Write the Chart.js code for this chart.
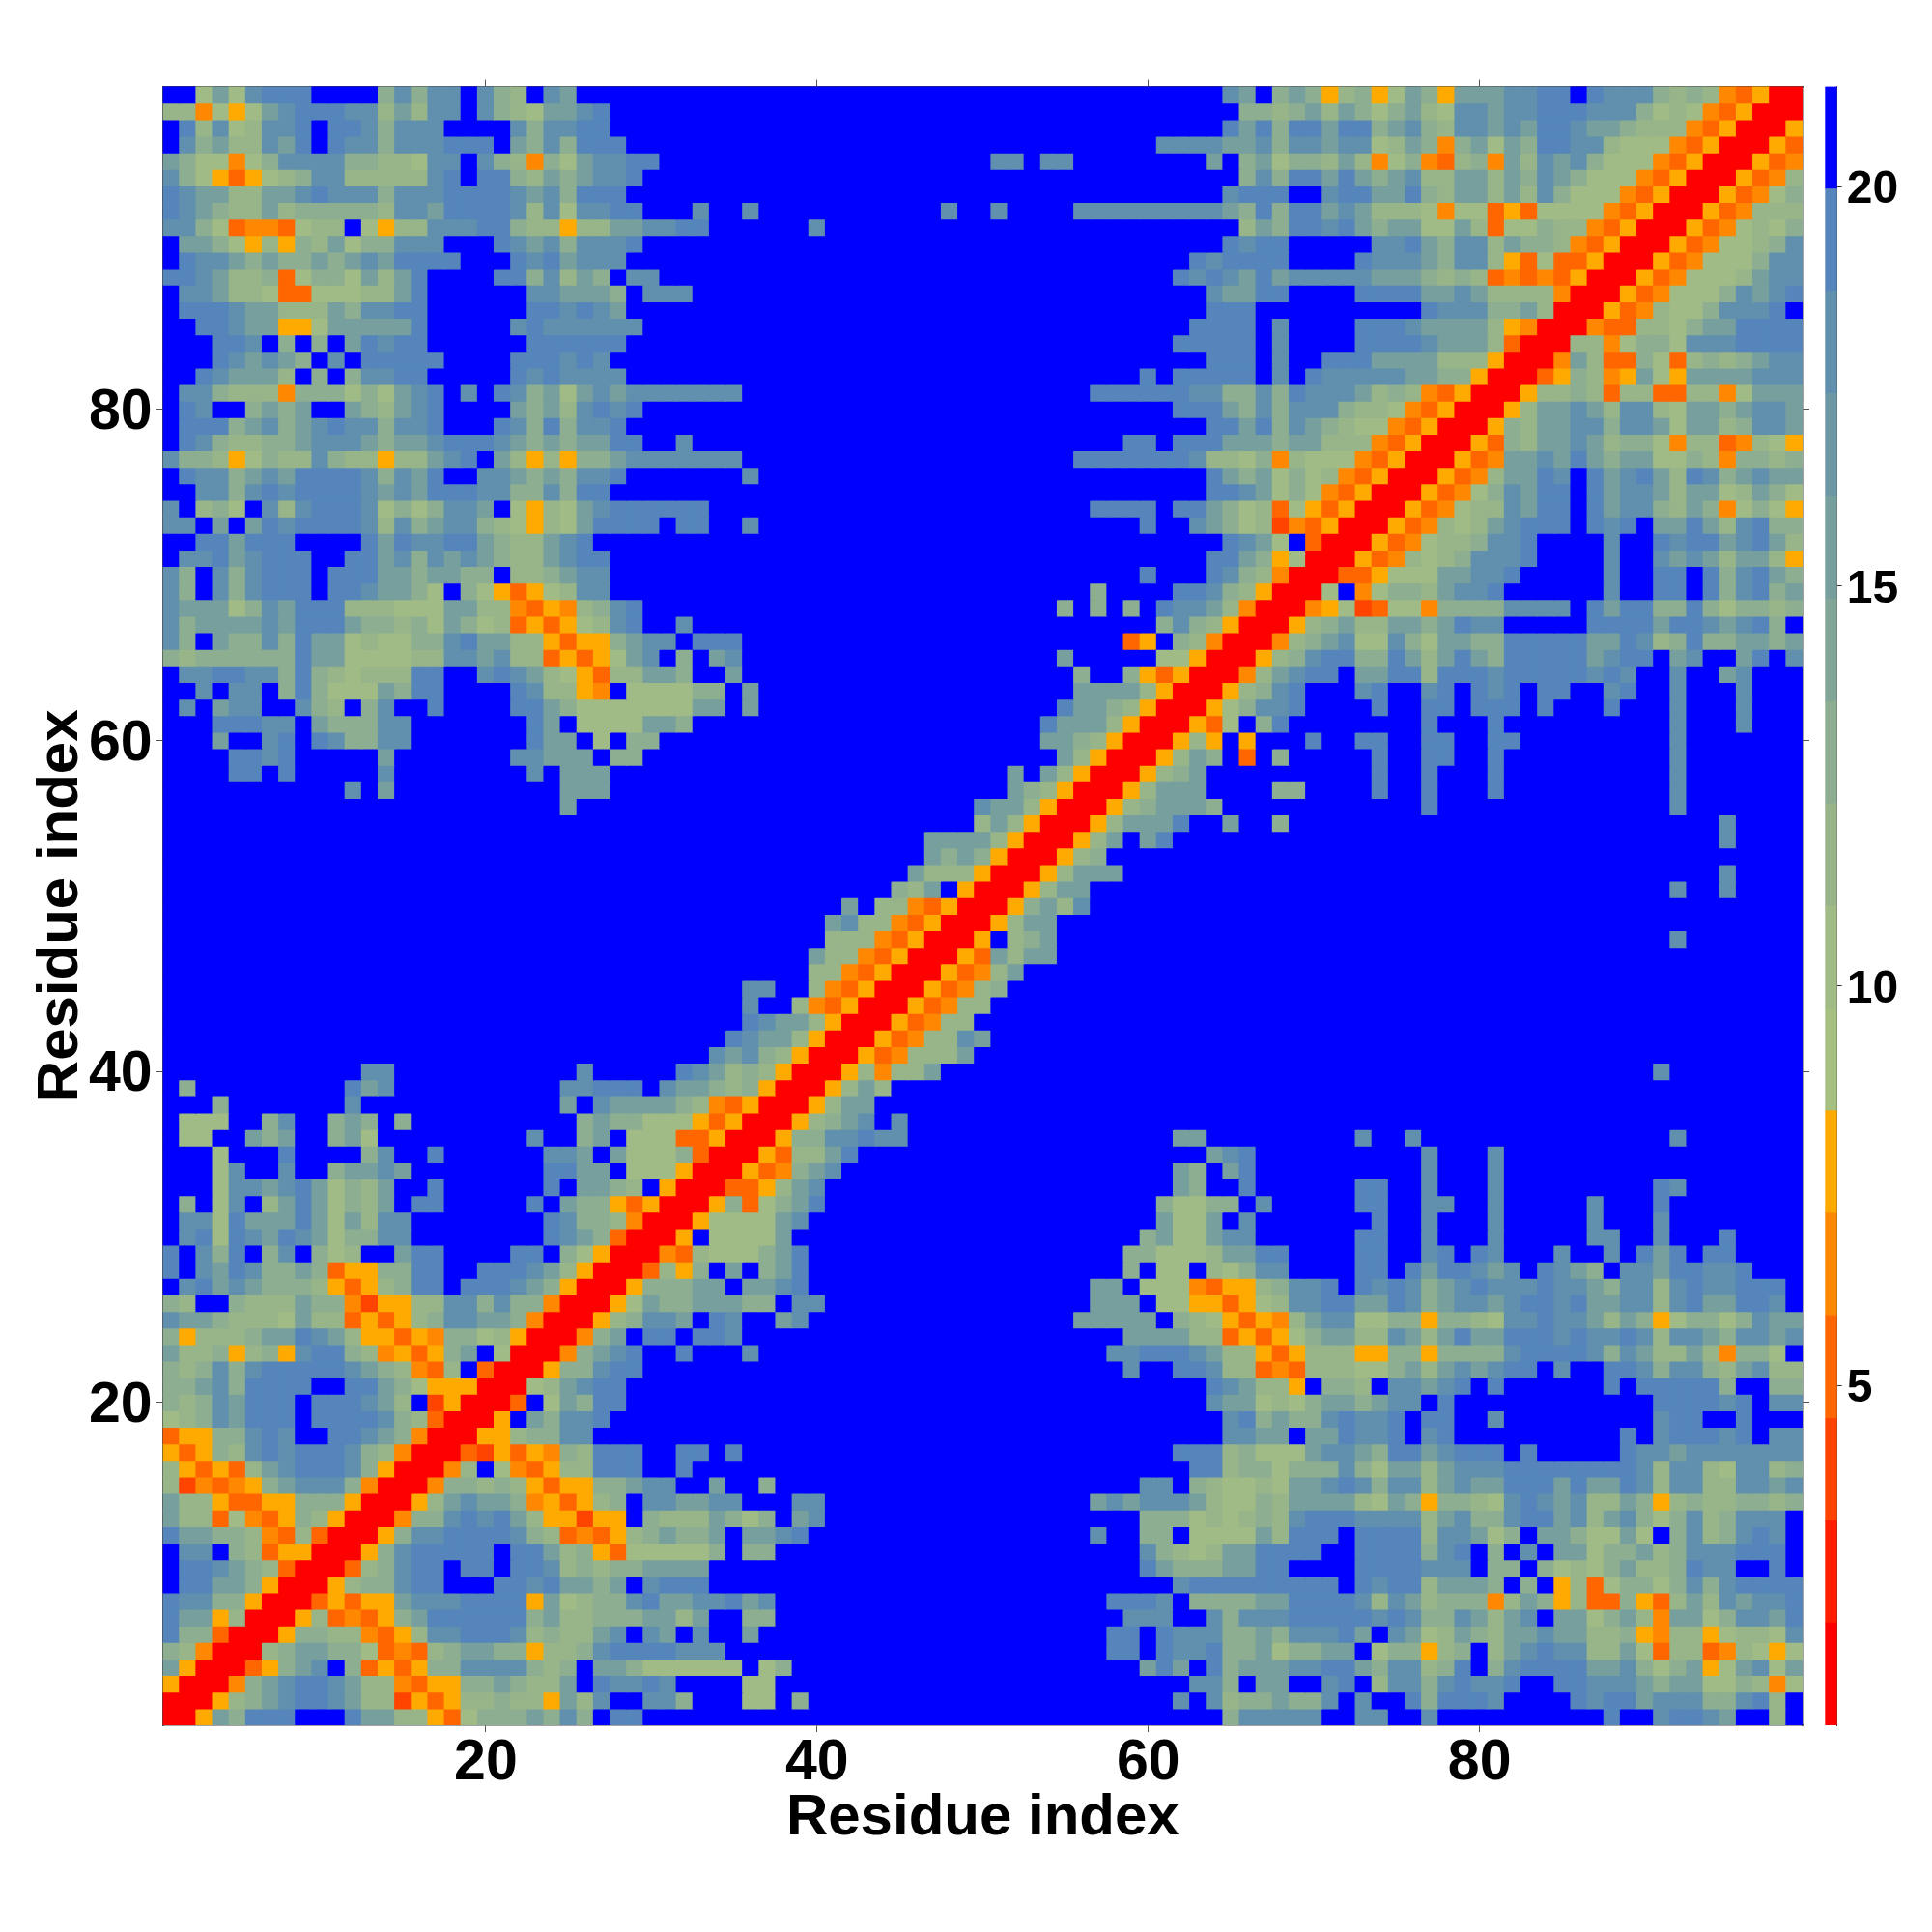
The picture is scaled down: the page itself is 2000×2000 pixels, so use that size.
<!DOCTYPE html>
<html>
<head>
<meta charset="utf-8">
<title>Residue distance map</title>
<script src="https://cdn.jsdelivr.net/npm/chart.js@4"></script>
<style>
  html, body { margin: 0; padding: 0; background: #fff; }
  #map { position: absolute; left: 0; top: 0; }
  #bar { position: absolute; left: 1880px; top: 0; }
</style>
</head>
<body>
<canvas id="map" width="2000" height="2000"></canvas>
<canvas id="bar" width="120" height="2000"></canvas>
<script>
// The map is symmetric, so only cells with x <= y are listed, one character per cell.
// 0-5 warm shades, 8-d green to steel blue, f = beyond the scale (blue)
const leftTop = [ // y 99..67, x 1..33
  "ff8b8cdddffffacaccfca9fcbffffffff",
  "994858bcdddcc9b9ccfca98bbcdffffff",
  "fd9c89ccdfddcacccffffcaccddffffff",
  "fcab99cbdfdccacccdddfbacadddfffff",
  "ba8848accccaa998ccfca94a8bccddfff",
  "ca853589acc99999cdfdda9babccdffff",
  "dcbb99bbcdcccacccddddcbcadddfffff",
  "dcba99b9aaaaa9ccbddddc9c8ccddfffc",
  "cca83443899f8599cccdda99599bbccdd",
  "fbba8595a9b8aacccfffdcbcacccdffff",
  "fdccbabaababcbddddfffdcdbcccfffff",
  "ddcb99a38aa8b9bdffffddac9bafccfff",
  "fccb9983388899bdffffffccbbbafcccf",
  "fdddcbb999baccddffffffddcdcbfffff",
  "ffddcbb558bbbbbdfffffcdccccccffff",
  "fffddcfafafbdcddffffffddddddfffff",
  "fffdcbcbafcfdddddffffdddcdcffffff",
  "ffdcbbb9fafaccddfffffdcdccccfffff",
  "fcca9994aaa8a8bcdfcfdcab8bcbccccc",
  "fdcffababffba9bcdffffbab9cdcdffff",
  "fdddabcabcdccaccdfffdcadaccdfffff",
  "fdca99aabcccbabbcdddcbababbddffcf",
  "caa958a99ca99599bcdfb9595aabccccc",
  "fdccabcbddddcacbdffccbabaccdfffff",
  "ffccacdcddddcbcbdddccaacaddffffff",
  "cf9a8fc9cdddc8a8accbf8598bcdddddd",
  "ccfbfbdcddddc9cabcca98598bddddfdd",
  "ffddbdddffffdbdccddba99bcdfffffff",
  "fccdbcdddffddbcacbcba99bcddffffff",
  "cafcacdddfdddbbabbaaf99abccffffff",
  "cafcacdddfddcbba8fa853589ccffffff",
  "cbbb8acbddd999888bb9943549acdffff",
  "cabbbbcbdddbaa9a8ba89353589cdffcf"
];
const midTop = [ // y 99..67, x 34..66, leading blue left out
  "cb",
  "a",
  "db",
  "ccccbb",
  "ccfccffffffffbfa",
  "a",
  "cd",
  "cfffffffffffcffcffffcccccccccba",
  "cfffffffffffffffffffffffff9",
  "dc",
  "dcdd",
  "dcdcb",
  "cbb",
  "ddd",
  "dddd",
  "ddddd",
  "ddd",
  "dfddddd",
  "ccfffffffffffffffffffffddddddccaa",
  "dddba",
  "ddb",
  "ddfdddbb",
  "ccffffffffffffffffffffdddddddc998",
  "cfffffffffffffffffffffffffffdba",
  "ddc",
  "ddddfddba8",
  "cfffffffffffffffffffffffdffcba8",
  "dc",
  "ddb",
  "dfffdca",
  "affffddca9",
  "afafafdccb94",
  "aca950"
];
const rightTop = [ // y 99..67, x 67..y
  "faba59a58ba5bbbccddfdccca9a943500",
  "a9ab9ba8ab98ccbccdddccca89843500",
  "daddbddabca9ccbcbddcbba99943500",
  "caccbcc89ba4ab8baddcc988843500",
  "b8aa9b948a439a4b9cbca88843500",
  "caddbdbabc99bb9bacba88843500",
  "ddffcddbbda9bb9b9ca88843500",
  "daddbcb9998488353888843500",
  "baddcdbabb88b9388a9943500",
  "ddfffffccdbacc9baa943500",
  "ddffffdcccbacc953833500",
  "dbcccccbbba9a934343500",
  "ddffffddddbbcb9999400",
  "ffffffffffdcccaab900",
  "fcffffdddcbbbb95400",
  "fcffffddddcbbb9300",
  "fcffdddbbbb999500",
  "fcfdcccccbbaa500",
  "cadcccb9a943500",
  "caccca99843500",
  "dacba98843500",
  "babb99943500",
  "a4988843500",
  "b8a8943500",
  "b8a843500",
  "93853500",
  "9243500",
  "b8f300",
  "a5800",
  "9400",
  "500",
  "00",
  "0"
];
const leftMid = [ // y 66..34, x 1..33, trailing blue left out
  "cafbaacadbb8988aacdbb995355abccfd",
  "a9aaaaaadbb888899ccbc9935358bcfaf",
  "fccddccada98999ddffcdcb985399bbaf",
  "ffcfccfada888baddffffdc9954f8888a",
  "fcfbccffca9facffdffffddba8888888b",
  "fffdddccfbaaaccfffffffdbf8888bbaf",
  "fffbffcdfdcaaccfffffffdbbf8faafff",
  "ffffddcdfffffbfffffffccbbbfaaffff",
  "ffffddfdfffffcffffffffcfbbbffffff",
  "fffffffffffcfbffffffffffbbb",
  "ffffffffffffffffffffffffb",
  "", "", "", "", "", "", "", "", "", "", "", "", "", "", "",
  "ffffffffffffccfffffffffffcfffffdc",
  "fafffffffffdbcffffffffffccdddfcbb",
  "fffafffffffcffffffffffffbfcbbbba9",
  "f888ffacffabafaffffffffffabaa8885",
  "f88ffbabffab8fffffffffcffabf88833",
  "fff8fffdffffacffdffffffccbfb888a3",
  "fff8cffcffabbcbffffffffddbbf88850"
];
const midMid = [ // y 66..34, x 34..y, leading blue left out
  "ddfffffffffffffffffffffff35fa9400",
  "bcfffffffffffffffffffbfffff88500",
  "fbffffffffffffffffffffaffa53500",
  "afbfffffffffffffffffffbbbb9500",
  "bfbffffffffffffffffffdbba9500",
  "dbbb9500",
  "bba9500",
  "b9500",
  "bfb9500",
  "ba9500",
  "cbb9500",
  "9b9500",
  "bbbb9500",
  "baba500",
  "b999500",
  "a9bf500",
  "bf9943500",
  "bc9943500",
  "99943500",
  "b9943500",
  "9943500",
  "ccff943500",
  "cff943500",
  "dcbb9500",
  "dcbb9500",
  "cbca9500",
  "b9a9500",
  "a9a500",
  "43500",
  "3500",
  "500",
  "00",
  "0"
];
const leftBottom = [ // y 33..1, x 1..y
  "fff8ccbcdb8a9bffdffffffdfbba9f500",
  "faf8cf9bdb8a9bfddfffffdfbaa53500",
  "fcc8dbbbdb8b9ccffffffffdcaa9400",
  "fcd8dcbdcb8aaccffffffffdcba300",
  "dfcadfacfa89ffbddffffddfa8500",
  "dfcbdcaaba355aaddffdddcb9500",
  "fcdbcbaaa95359addfdddcba500",
  "a9ffa999baa425599ccacaa400",
  "cbba9998b9935359accbba400",
  "a5999abbdcb955354aa89500",
  "b99a59a5cdda94535abf800",
  "a9acacdddddcba9439f300",
  "aabcaddddffddba855500",
  "a9acbdddfdddcb9f2500",
  "89acbdddfddddca9300",
  "355aacdcffddcba400",
  "535a9cdcdddca9400",
  "953539bcdddca500",
  "924345abccca400",
  "b9953355aaa500",
  "b9938435a9500",
  "dbbaa9439300",
  "fccfa935500",
  "fddcba9300",
  "fddbba500",
  "dccaa500",
  "dbb5900",
  "daa300",
  "a9400",
  "b500",
  "500",
  "00",
  "0"
];

const axisTicks = [20, 40, 60, 80];
const barTicks = [5, 10, 15, 20];
const barEdges = [0.75, 2.03, 3.31, 4.59, 5.88, 7.16, 8.44, 9.72, 11, 12.28, 13.56, 14.84, 16.13, 17.41, 18.69, 19.97, 21.25];
const barColors = ['#ff0000', '#ff1e00', '#ff4400', '#ff6600', '#ff8800', '#ffaa00',
  '#a6c082', '#a0bb85', '#98b58a', '#8dae90', '#81a697', '#769f9e', '#6c98a5', '#6090ad', '#5585bb', '#0000ff'];
// which colour band each character of the tables stands for
const shadeBands = { '0': 0, '1': 1, '2': 2, '3': 3, '4': 4, '5': 5, '8': 7, '9': 8, 'a': 9, 'b': 11, 'c': 13, 'd': 14, 'f': 15 };

const FONT = "'Liberation Sans', Arial, sans-serif";

// -------------------------------
// cells
// -------------------------------
const table = {};
for (let i = 0; i < 33; i++) {
    table[99 - i] = leftTop[i] + midTop[i].padStart(33, 'f') + rightTop[i];
    const y = 66 - i;
    table[y] = leftMid[i].padEnd(33, 'f') + midMid[i].padStart(y - 33, 'f');
    table[33 - i] = leftBottom[i];
}

const points = [];
const colors = [];
for (let y = 1; y <= 99; y++) {
    for (let x = 1; x <= 99; x++) {
        const shade = x <= y ? table[y][x - 1] : table[x][y - 1];
        points.push({ x, y });
        colors.push(barColors[shadeBands[shade]]);
    }
}

function fixedTicks(values) {
    return axis => { axis.ticks = values.map(value => ({ value })); };
}

const tickGrid = { drawOnChartArea: false, tickLength: 7, tickColor: '#555', tickWidth: 1 };
const edge = { display: true, color: '#444', width: 1.5 };
const tickFont = { family: FONT, size: 59, weight: 'bold' };
const titleFont = { family: FONT, size: 60, weight: 'bold' };

new Chart(document.getElementById('map'), {
    type: 'scatter',
    data: {
        datasets: [{
            data: points,
            pointStyle: 'rect',
            pointRadius: 12.85,
            pointBorderWidth: 0,
            pointBackgroundColor: colors,
            clip: 0
        }]
    },
    options: {
        responsive: false,
        animation: false,
        devicePixelRatio: 1,
        parsing: false,
        normalized: true,
        events: [],
        layout: { padding: 0 },
        plugins: { legend: { display: false }, tooltip: { enabled: false } },
        scales: {
            x: {
                type: 'linear', position: 'bottom', min: 0.5, max: 99.5, z: 1,
                afterBuildTicks: fixedTicks(axisTicks),
                afterFit: axis => { axis.height = 214; },
                grid: tickGrid, border: edge,
                ticks: { color: '#000', font: tickFont, padding: -3, maxRotation: 0, autoSkip: false },
                title: { display: true, text: 'Residue index', color: '#000', font: titleFont, padding: { top: 0, bottom: 82 } }
            },
            y: {
                type: 'linear', position: 'left', min: 0.5, max: 99.5, z: 1,
                afterBuildTicks: fixedTicks(axisTicks),
                afterFit: axis => { axis.width = 168.6; },
                grid: tickGrid, border: edge,
                ticks: { color: '#000', font: tickFont, padding: 4, labelOffset: 3.8, maxRotation: 0, autoSkip: false },
                title: { display: true, text: 'Residue index', color: '#000', font: titleFont, padding: { top: 27.6, bottom: 0 } }
            },
            xTop: {
                type: 'linear', axis: 'x', position: 'top', min: 0.5, max: 99.5, z: 1,
                afterBuildTicks: fixedTicks(axisTicks),
                afterFit: axis => { axis.height = 89.6; },
                grid: tickGrid, border: edge, ticks: { display: false }
            },
            yRight: {
                type: 'linear', axis: 'y', position: 'right', min: 0.5, max: 99.5, z: 1,
                afterBuildTicks: fixedTicks(axisTicks),
                afterFit: axis => { axis.width = 134; },
                grid: tickGrid, border: edge, ticks: { display: false }
            }
        }
    }
});

// -------------------------------
// colour bar
// -------------------------------
new Chart(document.getElementById('bar'), {
    type: 'bar',
    data: {
        labels: [''],
        datasets: barColors.map((color, i) => ({
            data: [[barEdges[i], barEdges[i + 1]]],
            backgroundColor: color,
            borderWidth: 0,
            barPercentage: 1,
            categoryPercentage: 1
        }))
    },
    options: {
        responsive: false,
        animation: false,
        devicePixelRatio: 1,
        events: [],
        layout: { padding: { left: 9.3, top: 89.6, bottom: 214 } },
        plugins: { legend: { display: false }, tooltip: { enabled: false } },
        scales: {
            x: { stacked: true, display: true, grid: { display: false }, ticks: { display: false }, border: { display: false }, afterFit: axis => { axis.height = 0; } },
            y: {
                type: 'linear', position: 'right', min: 0.75, max: 21.25, stacked: false, z: 1,
                afterBuildTicks: fixedTicks(barTicks),
                afterFit: axis => { axis.width = 98.3; },
                grid: { drawOnChartArea: false, tickLength: 5, tickColor: '#333' },
                border: { display: true, color: '#444', width: 1 },
                ticks: { color: '#000', font: { family: FONT, size: 48, weight: 'bold' }, padding: 5, labelOffset: 3.8, autoSkip: false }
            }
        }
    }
});
</script>
</body>
</html>
